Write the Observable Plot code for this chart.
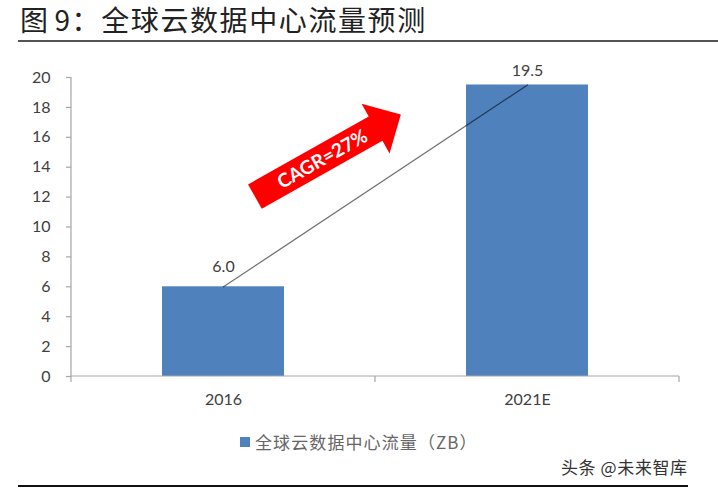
<!DOCTYPE html>
<html lang="zh">
<head>
<meta charset="utf-8">
<script src="https://cdn.jsdelivr.net/npm/d3@7"></script>
<script src="https://cdn.jsdelivr.net/npm/@observablehq/plot@0.6"></script>
<style>
html,body{margin:0;padding:0;background:#fff;width:718px;height:489px;overflow:hidden}
#page{position:relative;width:718px;height:489px}
#title{position:absolute;left:20px;top:0;height:41px;font:400 28px/38px "Noto Sans CJK SC",sans-serif;letter-spacing:1.6px;word-spacing:-3px;color:#222;white-space:pre}
#rule1{position:absolute;left:18px;right:0;top:40px;height:1.5px;background:#555}
#chart{position:absolute;left:0;top:42px}
#legend{position:absolute;left:240px;top:430px;height:24px;display:flex;align-items:center;font:17px/24px "Noto Sans CJK SC",sans-serif;color:#666;letter-spacing:1.1px}
#legend i{display:inline-block;width:10px;height:10px;background:#4f81bd;margin-right:5px}
#mark{position:absolute;left:561px;top:455px;font:17px/24px "Noto Sans CJK SC",sans-serif;letter-spacing:.6px;color:#333}
#rule2{position:absolute;left:18px;width:670px;top:485px;height:2px;background:#111}
</style>
</head>
<body>
<div id="page">
<div id="title"></div><div id="rule1"></div>
<div id="chart"></div>
<div id="legend"><i></i><span></span></div>
<div id="mark"></div><div id="rule2"></div>
</div>
<script>
const titleText = "图 9\uFF1A全球云数据中心流量预测";
const legendText = "全球云数据中心流量\uFF08ZB\uFF09";
const watermark = "头条 @未来智库";
const categories = ["2016", "2021E"];
const traffic = [6.0, 19.5];
const yTicks = [0,2,4,6,8,10,12,14,16,18,20];
const cagrLabel = "CAGR=27%";
// arrow ends: [fraction of the way between the two categories, value]
const arrowTail = [0.105, 12.0];
const arrowTip = [0.585, 17.5];

document.getElementById("title").textContent = titleText;
document.querySelector("#legend span").textContent = legendText;
document.getElementById("mark").textContent = watermark;

const table = categories.map((c,i)=>({c, v:traffic[i]}));
const axisColor = "#a6a6a6", textColor = "#404040", font = "Lato, sans-serif";

function frameAndArrow(index, scales, values, dims){
  const step = (dims.width-dims.marginLeft-dims.marginRight)/categories.length;
  const x0 = scales.x(categories[0]) + scales.x.bandwidth()/2;
  const ax = x0+arrowTail[0]*step, ay = scales.y(arrowTail[1]);
  const bx = x0+arrowTip[0]*step, by = scales.y(arrowTip[1]);
  const len = Math.hypot(bx-ax,by-ay), deg = Math.atan2(by-ay,bx-ax)*180/Math.PI;
  const h=14, H=28.5, head=29;
  const g = d3.create("svg:g");
  const base = scales.y(0), top = scales.y(20), left = dims.marginLeft, right = dims.width-dims.marginRight;
  const ax1 = g.append("g").attr("stroke",axisColor).attr("stroke-width",1.2);
  ax1.append("line").attr("x1",left).attr("x2",right).attr("y1",base).attr("y2",base);
  ax1.append("line").attr("x1",left).attr("x2",left).attr("y1",top).attr("y2",base);
  for(let i=0;i<=categories.length;i++){
    const x=left+i*step;
    ax1.append("line").attr("x1",x).attr("x2",x).attr("y1",base).attr("y2",base+6);
  }
  const a = g.append("g").attr("transform",`translate(${ax},${ay}) rotate(${deg})`);
  a.append("path").attr("fill","#ff0000")
    .attr("d",`M0,${-h}L${len-head},${-h}L${len-head},${-H}L${len},0L${len-head},${H}L${len-head},${h}L0,${h}Z`);
  a.append("text").text(cagrLabel).attr("x",(len-head)/2+8).attr("y",0).attr("dy","0.36em")
    .attr("text-anchor","middle").attr("fill","#fff").attr("font-family",font)
    .attr("font-size",19).attr("font-weight",700);
  return g.node();
}

const plot = Plot.plot({
  width:718, height:378,
  marginLeft:71, marginRight:39, marginTop:35, marginBottom:44,
  style:{background:"transparent", fontFamily:font},
  x:{domain:categories, paddingInner:0.6, paddingOuter:0.3, label:null},
  y:{domain:[0,20], label:null},
  marks:[
    Plot.barY(table,{x:"c",y:"v",fill:"#4f81bd"}),
    Plot.axisY({ticks:yTicks,tickSize:5,stroke:axisColor,strokeWidth:1.2,tickPadding:16,fontSize:16,fill:textColor,label:null,fontFamily:font,tickFormat:d=>String(d)}),
    Plot.axisX({tickSize:0,tickPadding:17,fontSize:16,fill:textColor,label:null,fontFamily:font}),
    Plot.line(table,{x:"c",y:"v",stroke:"#000",strokeOpacity:0.55,strokeWidth:1.3}),
    Plot.text(table,{filter:d=>d.c===categories[0],x:"c",y:"v",text:d=>d.v.toFixed(1),dy:-20,fontSize:16,fill:textColor,fontFamily:font}),
    Plot.text(table,{filter:d=>d.c===categories[1],x:"c",y:"v",text:d=>d.v.toFixed(1),dy:-14,fontSize:16,fill:textColor,fontFamily:font}),
    frameAndArrow
  ]
});
document.getElementById("chart").appendChild(plot);
</script>
</body>
</html>
